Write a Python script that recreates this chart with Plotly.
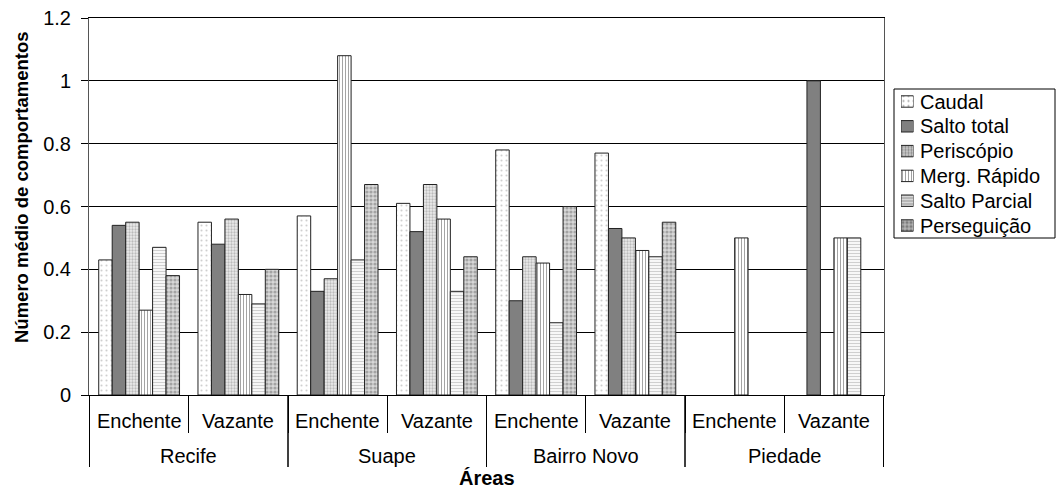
import plotly.graph_objects as go

# Areas and tide phases (two-level category axis)
areas = ["Recife", "Recife", "Suape", "Suape", "Bairro Novo", "Bairro Novo", "Piedade", "Piedade"]
tides = ["Enchente", "Vazante"] * 4
categories = [f"{a}|{t}" for a, t in zip(areas, tides)]

# Mean number of behaviours per series
caudal = [0.43, 0.55, 0.57, 0.61, 0.78, 0.77, None, None]
salto_total = [0.54, 0.48, 0.33, 0.52, 0.30, 0.53, None, 1.0]
periscopio = [0.55, 0.56, 0.37, 0.67, 0.44, 0.50, None, None]
merg_rapido = [0.27, 0.32, 1.08, 0.56, 0.42, 0.46, 0.5, 0.5]
salto_parcial = [0.47, 0.29, 0.43, 0.33, 0.23, 0.44, None, 0.5]
perseguicao = [0.38, 0.40, 0.67, 0.44, 0.60, 0.55, None, None]

series_names = ["Caudal", "Salto total", "Periscópio", "Merg. Rápido", "Salto Parcial", "Perseguição"]
series_values = [caudal, salto_total, periscopio, merg_rapido, salto_parcial, perseguicao]

y_ticks = [0, 0.2, 0.4, 0.6, 0.8, 1.0, 1.2]
y_tick_text = ["0", "0.2", "0.4", "0.6", "0.8", "1", "1.2"]

# Fill style for each series: (base colour, pattern shape, fg, bg, size, solidity)
styles = [
    ("white", ".", "#a0a0a0", "white", 5, 0.14),
    ("#808080", "", "#808080", "#808080", 4, 0.3),
    ("#cfcfcf", ".", "#8a8a8a", "#ececec", 3, 0.45),
    ("white", "|", "#4a4a4a", "white", 3, 0.35),
    ("#e6e6e6", "-", "#a0a0a0", "white", 3, 0.45),
    ("#b4b4b4", ".", "#6e6e6e", "#d8d8d8", 4, 0.5),
]

FONT = "Liberation Sans, Arial, sans-serif"
OUTLINE = dict(color="#222222", width=1)

fig = go.Figure()

for name, vals, (col, shp, fg, bg, sz, sol) in zip(series_names, series_values, styles):
    fig.add_trace(go.Bar(
        name=name, x=categories, y=vals, showlegend=False,
        marker=dict(color=col, line=OUTLINE,
                    pattern=dict(shape=shp, fgcolor=fg, bgcolor=bg, size=sz, solidity=sol)),
    ))

# Legend keys: one small horizontal bar per series on its own axes
fig.add_trace(go.Bar(
    x=[1] * len(series_names), y=series_names, orientation="h", width=0.46,
    xaxis="x2", yaxis="y2", showlegend=False, hoverinfo="skip",
    marker=dict(
        color=[s[0] for s in styles], line=OUTLINE,
        pattern=dict(shape=[s[1] for s in styles], fgcolor=[s[2] for s in styles],
                     bgcolor=[s[3] for s in styles], size=[s[4] for s in styles],
                     solidity=[s[5] for s in styles]),
    ),
))

# Pixel geometry helpers (paper width 969 px from x=89, plot height 377 px)
PW, PH = 969.0, 377.0
def px_x(p):
    return (p - 89) / PW
def px_y(p):
    return (395 - p) / PH

annotations = []
shapes = []

# Inner (tide) labels
for c, t in zip(categories, tides):
    annotations.append(dict(x=c, xref="x", y=px_y(421), yref="paper", text=t,
                            showarrow=False, yanchor="middle",
                            font=dict(size=20, family=FONT, color="black")))

# Outer (area) labels centred under their pair of categories, with long dividers
unique_areas = list(dict.fromkeys(areas))
for a in unique_areas:
    idx = [i for i, v in enumerate(areas) if v == a]
    annotations.append(dict(x=sum(idx) / len(idx), xref="x", y=px_y(456), yref="paper", text=a,
                            showarrow=False, yanchor="middle",
                            font=dict(size=20, family=FONT, color="black")))
    for b in (min(idx) - 0.5, max(idx) + 0.5):
        shapes.append(dict(type="line", xref="x", yref="paper", x0=b, x1=b,
                           y0=0, y1=px_y(467), line=dict(color="black", width=1)))

# Axis titles
annotations.append(dict(x=0.5 * (795 / PW), xref="paper", y=px_y(478), yref="paper",
                        text="<b>Áreas</b>", showarrow=False, yanchor="middle",
                        font=dict(size=20, family=FONT, color="black")))
annotations.append(dict(x=px_x(22), xref="paper", y=px_y(188), yref="paper",
                        text="<b>Número médio de comportamentos</b>", textangle=-90,
                        showarrow=False, xanchor="center", yanchor="middle",
                        font=dict(size=18.5, family=FONT, color="black")))

# Legend frame and entry texts
shapes.append(dict(type="rect", xref="paper", yref="paper",
                   x0=px_x(894), x1=px_x(1055), y0=px_y(238), y1=px_y(89),
                   line=dict(color="black", width=1), fillcolor="rgba(0,0,0,0)"))
for n in series_names:
    annotations.append(dict(x=px_x(918), xref="paper", y=n, yref="y2", text=n,
                            showarrow=False, xanchor="left", yanchor="middle",
                            font=dict(size=20, family=FONT, color="black")))

fig.update_layout(
    width=1058,
    height=488,
    margin=dict(l=89, r=0, t=18, b=93, pad=0),
    paper_bgcolor="white",
    plot_bgcolor="white",
    barmode="group",
    bargap=0.186,
    bargroupgap=0,
    font=dict(family=FONT, size=20, color="black"),
    showlegend=False,
    xaxis=dict(
        domain=[0, 795 / PW],
        type="category",
        showline=True, linecolor="black", linewidth=1, mirror=True,
        ticks="outside", tickson="boundaries", ticklen=37, tickcolor="black",
        showticklabels=False, showgrid=False,
    ),
    yaxis=dict(
        range=[0, 1.2],
        tickvals=y_ticks, ticktext=y_tick_text,
        showgrid=True, gridcolor="black", gridwidth=1,
        showline=True, linecolor="#555555", linewidth=1, mirror=True,
        ticks="outside", ticklen=7, tickcolor="black",
        ticklabelstandoff=6,
        tickfont=dict(size=20, family=FONT),
        zeroline=False,
    ),
    xaxis2=dict(domain=[px_x(901), px_x(913.5)], anchor="y2", range=[0, 1],
                visible=False, fixedrange=True),
    yaxis2=dict(domain=[px_y(238.5), px_y(88.5)], anchor="x2", type="category",
                categoryorder="array", categoryarray=series_names, autorange="reversed",
                visible=False, fixedrange=True),
    annotations=annotations,
    shapes=shapes,
)

fig.write_html("out.html")
